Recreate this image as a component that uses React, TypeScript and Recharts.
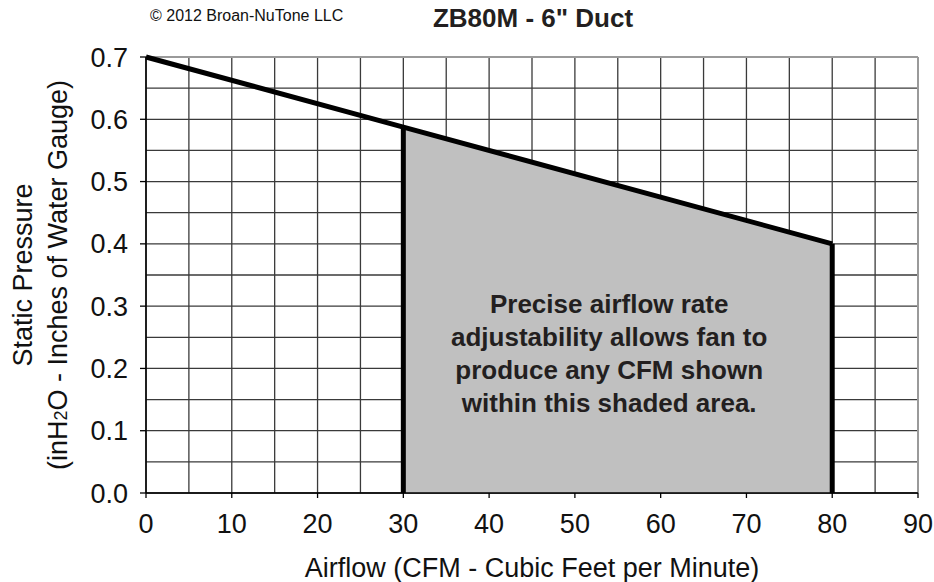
import { ComposedChart, Line, Area, XAxis, YAxis, CartesianGrid, ReferenceLine, ReferenceDot } from 'recharts';

// fan curve
const airflow = [0, 30, 80];
const pressure = [0.7, 0.5875, 0.4];
// shaded operating range (null = outside)
const shaded = [null, 0.5875, 0.4];

const xTicks = [0, 10, 20, 30, 40, 50, 60, 70, 80, 90];
const yTicks = [0, 0.1, 0.2, 0.3, 0.4, 0.5, 0.6, 0.7];
const xGrid = [0, 5, 10, 15, 20, 25, 30, 35, 40, 45, 50, 55, 60, 65, 70, 75, 80, 85, 90];
const yGrid = [0, 0.05, 0.1, 0.15, 0.2, 0.25, 0.3, 0.35, 0.4, 0.45, 0.5, 0.55, 0.6, 0.65, 0.7];

const noteLines = [
  'Precise airflow rate',
  'adjustability allows fan to',
  'produce any CFM shown',
  'within this shaded area.'
];

const FONT = '"Liberation Sans", Arial, Helvetica, sans-serif';

const data = airflow.map((a, i) => ({
  airflow: a,
  pressure: pressure[i],
  shaded: shaded[i]
}));

function gridX({ xAxis, offset }: any) {
  if (xAxis && typeof xAxis.scale === 'function') return xGrid.map(v => xAxis.scale(v));
  return xGrid.map(v => offset.left + (offset.width * v) / 90);
}

function gridY({ yAxis, offset }: any) {
  if (yAxis && typeof yAxis.scale === 'function') return yGrid.map(v => yAxis.scale(v));
  return yGrid.map(v => offset.top + offset.height * (1 - v / 0.7));
}

function YTitle(props: any) {
  const vb = props.viewBox || { x: 0, y: 57, width: 146, height: 436 };
  const cy = vb.y + vb.height / 2;
  return (
    <g fontFamily={FONT} fontSize={27} fill="#111">
      <text x={23} y={cy} transform={`rotate(-90 23 ${cy})`} textAnchor="middle" dominantBaseline="central">
        Static Pressure
      </text>
      <text x={58} y={cy} transform={`rotate(-90 58 ${cy})`} textAnchor="middle" dominantBaseline="central">
        (inH<tspan fontSize={18} dy={3}>2</tspan><tspan dy={-3}>O - Inches of Water Gauge)</tspan>
      </text>
    </g>
  );
}

function Note(props: any) {
  const vb = props.viewBox || { cx: 0, cy: 0 };
  const cx = vb.cx ?? vb.x;
  const cy = vb.cy ?? vb.y;
  const step = 33;
  return (
    <g fontFamily={FONT} fontSize={26} fontWeight="bold" fill="#231f20">
      {noteLines.map((t, i) => (
        <text key={i} x={cx} y={cy + (i - (noteLines.length - 1) / 2) * step} textAnchor="middle" dominantBaseline="central">
          {t}
        </text>
      ))}
    </g>
  );
}

export default function App() {
  return (
    <div style={{ position: 'absolute', left: 0, top: 0, width: 934, height: 582, background: '#fff', fontFamily: FONT }}>
      <div style={{ position: 'absolute', left: 150, top: 7, fontSize: 16, color: '#111', whiteSpace: 'nowrap' }}>
        © 2012 Broan-NuTone LLC
      </div>
      <div style={{ position: 'absolute', left: 333, width: 400, top: 3, textAlign: 'center', fontSize: 26, fontWeight: 'bold', color: '#231f20' }}>
        ZB80M - 6" Duct
      </div>
      <ComposedChart
        width={934}
        height={582}
        data={data}
        margin={{ top: 57, right: 16, bottom: 0, left: 0 }}
        style={{ position: 'absolute', left: 0, top: 0 }}
      >
        <CartesianGrid
          stroke="#3a3a3a"
          strokeWidth={1.3}
          verticalCoordinatesGenerator={gridX}
          horizontalCoordinatesGenerator={gridY}
        />
        <XAxis
          dataKey="airflow"
          type="number"
          domain={[0, 90]}
          ticks={xTicks}
          interval={0}
          height={89}
          tickSize={5}
          tickMargin={16}
          axisLine={{ stroke: '#000', strokeWidth: 1.5 }}
          tickLine={{ stroke: '#000', strokeWidth: 1.3 }}
          tick={{ fontSize: 27, fill: '#111', fontFamily: FONT }}
          label={{ value: 'Airflow (CFM - Cubic Feet per Minute)', position: 'insideBottom', offset: 5, fontSize: 27, fill: '#111', fontFamily: FONT }}
        />
        <YAxis
          type="number"
          domain={[0, 0.7]}
          ticks={yTicks}
          interval={0}
          width={146}
          tickSize={6}
          tickMargin={12}
          tickFormatter={(v: number) => v.toFixed(1)}
          axisLine={{ stroke: '#000', strokeWidth: 1.5 }}
          tickLine={{ stroke: '#000', strokeWidth: 1.3 }}
          tick={{ fontSize: 27, fill: '#111', fontFamily: FONT }}
          label={<YTitle />}
        />
        <ReferenceLine y={0.7} stroke="#9a9a9a" strokeWidth={2} />
        <ReferenceLine x={90} stroke="#9a9a9a" strokeWidth={2} />
        <Area
          dataKey="shaded"
          type="linear"
          fill="#c0c0c0"
          fillOpacity={1}
          stroke="none"
          connectNulls={false}
          isAnimationActive={false}
        />
        <ReferenceLine
          segment={[{ x: airflow[1], y: 0 }, { x: airflow[1], y: pressure[1] }]}
          stroke="#000"
          strokeWidth={5}
        />
        <ReferenceLine
          segment={[{ x: airflow[2], y: 0 }, { x: airflow[2], y: pressure[2] }]}
          stroke="#000"
          strokeWidth={5}
        />
        <Line
          dataKey="pressure"
          type="linear"
          stroke="#000"
          strokeWidth={5}
          dot={false}
          activeDot={false}
          isAnimationActive={false}
        />
        <ReferenceDot x={54} y={0.224} r={0} stroke="none" fill="none" label={<Note />} />
      </ComposedChart>
    </div>
  );
}
